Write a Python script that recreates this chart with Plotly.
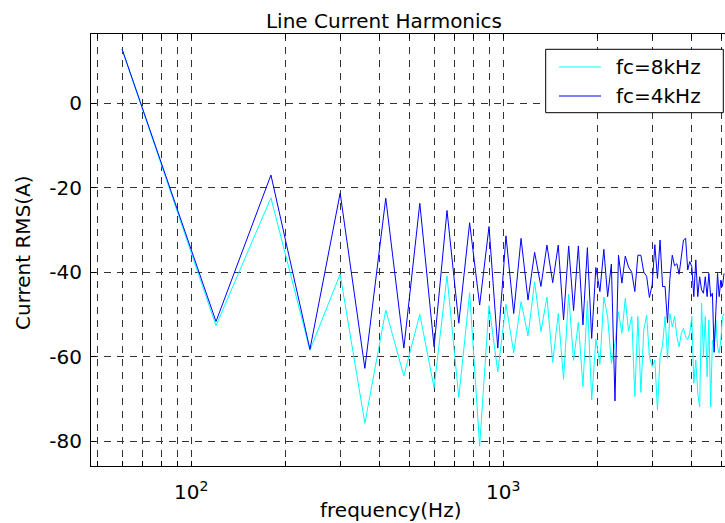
import plotly.graph_objects as go

# Harmonic numbers of the 60 Hz fundamental
fundamental_hz = 60
harmonic_order = list(range(1, 86))
frequency_hz = [fundamental_hz * n for n in harmonic_order]

# Harmonic current magnitudes (dB re 1 A RMS) for the two carrier frequencies
current_fc8k = [
    12.8, -52.7, -22.4, -58.5, -40.5, -75.8, -49.0, -64.6, -50.0, -67.4,
    -40.9, -69.7, -44.9, -81.2, -47.9, -63.6, -47.6, -59.1, -47.0, -55.1,
    -42.3, -54.1, -45.9, -61.4, -49.8, -65.4, -45.2, -60.9, -51.9, -67.1,
    -46.8, -70.3, -55.9, -61.8, -45.9, -50.6, -61.6, -56.9, -49.4, -54.5,
    -46.2, -54.0, -50.5, -69.5, -50.5, -68.5, -53.7, -50.2, -60.0, -62.4,
    -60.8, -72.7, -60.0, -57.3, -50.5, -60.4, -49.8, -53.0, -50.5, -55.3,
    -57.7, -54.5, -53.3, -55.3, -56.0, -54.5, -50.5, -66.3, -60.8, -68.7,
    -71.9, -47.4, -60.0, -50.5, -64.8, -51.3, -71.9, -56.1, -57.7, -51.3,
    -57.7, -59.2, -56.1, -50.5, -49.8,
]
current_fc4k = [
    12.8, -51.7, -17.0, -58.3, -21.3, -62.8, -22.5, -58.0, -23.7, -57.7,
    -25.4, -52.1, -28.3, -47.8, -29.2, -58.0, -31.4, -49.8, -32.0, -46.6,
    -35.3, -43.4, -33.6, -42.5, -33.6, -51.3, -33.8, -49.1, -33.8, -52.5,
    -34.2, -55.7, -38.9, -44.6, -34.6, -45.8, -38.1, -70.5, -36.0, -42.6,
    -36.2, -38.8, -40.0, -44.6, -36.0, -36.0, -40.0, -41.0, -46.0, -43.0,
    -33.5, -41.5, -32.4, -43.4, -43.4, -52.0, -41.5, -36.0, -38.5, -38.0,
    -40.5, -36.3, -32.4, -32.0, -39.5, -37.5, -38.7, -45.8, -37.1, -45.8,
    -41.1, -44.2, -45.0, -41.1, -45.8, -40.3, -45.8, -45.0, -59.0, -49.4,
    -40.3, -45.8, -41.9, -43.4, -40.3,
]

series_names = ["fc=8kHz", "fc=4kHz"]
series_colors = ["#00FFFF", "#0000FF"]

# Log-axis decades (labelled) and the in-between grid positions
x_major = [100, 1000]
x_major_text = ["10<sup>2</sup>", "10<sup>3</sup>"]
x_minor = [50, 60, 70, 80, 90, 200, 300, 400, 500, 600, 700, 800, 900,
           2000, 3000, 4000, 5000]
y_ticks = [-80, -60, -40, -20, 0]
y_tick_text = ["-80", "-60", "-40", "-20", "0"]

FONT = "DejaVu Sans"
W, H = 725, 523
L, R, T, B = 91, 0, 34, 57
PW, PH = W - L - R, H - T - B


def px(x):
    """Horizontal pixel -> paper fraction."""
    return (x - L) / PW


def py(y):
    """Vertical pixel (from top) -> paper fraction."""
    return (H - B - y) / PH


fig = go.Figure()
for name, color, values in zip(series_names, series_colors,
                               [current_fc8k, current_fc4k]):
    fig.add_trace(go.Scatter(
        x=frequency_hz, y=values, mode="lines", name=name,
        line=dict(color=color, width=1), showlegend=False,
    ))

grid_style = dict(showgrid=True, gridcolor="#333333", gridwidth=1, griddash="7px,6px")
tick_style = dict(ticks="inside", ticklen=5, tickcolor="black")

# Legend box drawn in the upper-right corner of the axes
legend_box = dict(x0=545.7, x1=723.3, y0=49.3, y1=112.7)
legend_rows = [67.0, 96.0]
shapes = [dict(type="rect", xref="paper", yref="paper",
               x0=px(legend_box["x0"]), x1=px(legend_box["x1"]),
               y0=py(legend_box["y1"]), y1=py(legend_box["y0"]),
               line=dict(color="black", width=1), fillcolor="white", layer="above")]
annotations = []
for name, color, row in zip(series_names, series_colors, legend_rows):
    shapes.append(dict(type="line", xref="paper", yref="paper",
                       x0=px(559), x1=px(601), y0=py(row), y1=py(row),
                       line=dict(color=color, width=1), layer="above"))
    annotations.append(dict(text=name, xref="paper", yref="paper",
                            x=px(614), y=py(row), xanchor="left", yanchor="middle",
                            showarrow=False, font=dict(family=FONT, size=20)))

annotations += [
    dict(text="frequency(Hz)", xref="paper", yref="paper",
         x=px(390), y=py(509.7), xanchor="center", yanchor="middle",
         showarrow=False, font=dict(family=FONT, size=20)),
    dict(text="Current RMS(A)", xref="paper", yref="paper", textangle=-90,
         x=px(23.5), y=py(252.5), xanchor="center", yanchor="middle",
         showarrow=False, font=dict(family=FONT, size=20)),
]

fig.update_layout(
    width=W, height=H,
    margin=dict(l=L, r=R, t=T, b=B, pad=0),
    paper_bgcolor="white", plot_bgcolor="white",
    font=dict(family=FONT, size=20, color="black"),
    title=dict(text="Line Current Harmonics", x=384 / W, xref="container",
               xanchor="center", y=1 - 21.3 / H, yref="container", yanchor="middle",
               font=dict(family=FONT, size=20, color="black")),
    xaxis=dict(type="log", range=[1.6785, 3.7106], tickvals=x_major,
               ticktext=x_major_text, showline=True, linecolor="black",
               linewidth=1, mirror="allticks", zeroline=False, ticklabelstandoff=8,
               tickfont=dict(family=FONT, size=20),
               minor=dict(tickvals=x_minor, **grid_style, **tick_style),
               **grid_style, **tick_style),
    yaxis=dict(range=[-85.92, 16.40], tickvals=y_ticks, ticktext=y_tick_text,
               showline=True, linecolor="black", linewidth=1, mirror=False,
               zeroline=False, ticklabelstandoff=4,
               tickfont=dict(family=FONT, size=20), **grid_style, **tick_style),
    showlegend=False,
    shapes=shapes,
    annotations=annotations,
)

fig.write_html("out.html")
